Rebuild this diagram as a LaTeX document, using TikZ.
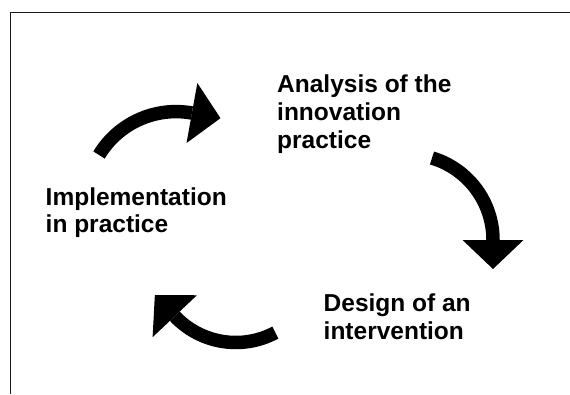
\documentclass[tikz,border=0pt]{standalone}
\usepackage{fontspec}
\setmainfont{Liberation Sans}
\usetikzlibrary{calc}

% curved cycle arrow: #1 centre, #2 radius, #3 start angle, #4 end angle (clockwise)
\newcommand\cyclearrow[4]{%
  \draw[shaft] ($(#1)+({#3}:{#2})$) arc[start angle={#3}, end angle={#4}, radius={#2}];
  \fill[head] ($(#1)+({#4}:{#2+30.5})$) -- ($(#1)+({#4}:{#2-30.5})$)
    -- ($(#1)+({#4}:{#2})+({#4-90}:29)$) -- cycle;
}

\begin{document}
\begin{tikzpicture}[x=1pt, y=1pt,
  frame/.style={line width=1.3pt, draw=black!90},
  shaft/.style={line width=13.5pt, line cap=butt, draw=black},
  head/.style={fill=black},
  label/.style={anchor=base west, inner sep=0pt, align=left,
    font=\fontsize{24.5}{28}\selectfont\bfseries}]
  \useasboundingbox (0,0) rectangle (570,394);

  % open frame: top and left edges only
  \coordinate (frameTR) at (570,381.5);
  \coordinate (frameBL) at (10.5,0);
  \draw[frame] (frameTR) -| (frameBL);

  % stage labels (positioned by the baseline of their last line)
  \node[label] (analysis) at (277,245.7) {Analysis of the\\innovation\\practice};
  \node[label] (design) at (323.5,54.3) {Design of an\\intervention};
  \node[label] (implement) at (45.5,161) {Implementation\\in practice};

  % arrow centres
  \coordinate (c1) at (176,192.4);
  \coordinate (c2) at (407.4,154);
  \coordinate (c3) at (235.8,135.5);

  \cyclearrow{c1}{90}{148.8}{79.8}
  \cyclearrow{c2}{85.6}{73.3}{0}
  \cyclearrow{c3}{84}{-61.9}{-136.6}
\end{tikzpicture}
\end{document}
